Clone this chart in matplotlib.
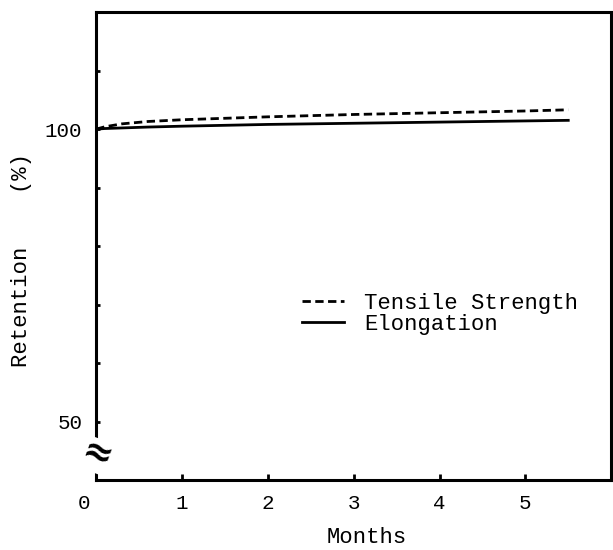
import matplotlib.pyplot as plt
import matplotlib.transforms as mtransforms

# Retention data
months = [0, 0.1, 0.3, 0.6, 1, 2, 3, 4, 5, 5.5]
tensile = [100, 100.4, 100.9, 101.3, 101.6, 102.1, 102.5, 102.8, 103.1, 103.3]
elongation = [100, 100.1, 100.2, 100.35, 100.5, 100.8, 101.0, 101.2, 101.4, 101.5]

x_ticks = [0, 1, 2, 3, 4, 5]
x_tick_labels = ["0", "1", "2", "3", "4", "5"]
y_ticks = [50, 60, 70, 80, 90, 100, 110]
y_tick_labels = ["50", "", "", "", "", "100", ""]

font = "Liberation Mono"

fig = plt.figure(figsize=(6.13, 5.5), dpi=100)
ax = fig.add_axes([0.157, 0.127, 0.84, 0.851])

ax.plot(months, tensile, color="black", linewidth=2.0, linestyle=(0, (3, 1.6)),
        label="Tensile Strength")
ax.plot(months, elongation, color="black", linewidth=2.0, label="Elongation")

ax.set_xlim(0, 6)
ax.set_ylim(40, 120)

for s in ax.spines.values():
    s.set_linewidth(2.2)

ax.set_xticks(x_ticks)
ax.set_xticklabels(x_tick_labels, fontname=font, fontsize=15)
ax.set_yticks(y_ticks)
ax.set_yticklabels(y_tick_labels, fontname=font, fontsize=15)
ax.tick_params(axis="x", direction="in", length=4, width=2, pad=10)
ax.tick_params(axis="y", direction="in", length=3, width=2, pad=10)

# shift the "0" label left of the corner
offset = mtransforms.ScaledTranslation(-0.12, 0, fig.dpi_scale_trans)
lbl0 = ax.get_xticklabels()[0]
lbl0.set_transform(lbl0.get_transform() + offset)

ax.set_xlabel("Months", fontname=font, fontsize=16)
ax.xaxis.set_label_coords(0.526, -0.1)
ax.set_ylabel("Retention    (%)", fontname=font, fontsize=16)
ax.yaxis.set_label_coords(-0.125, 0.47)

# axis break mark
ax.text(0, 44.2, "\u2248", transform=ax.transData, fontsize=26, fontweight="bold",
        ha="center", va="center", clip_on=False, rotation=-20,
        bbox=dict(facecolor="white", edgecolor="none", pad=0))

ax.legend(loc="upper left", bbox_to_anchor=(0.40, 0.40), frameon=False,
          prop={"family": font, "size": 16}, handlelength=1.9,
          handletextpad=0.9, labelspacing=0.0, borderpad=0, borderaxespad=0)

fig.savefig("out.png", dpi=100)
